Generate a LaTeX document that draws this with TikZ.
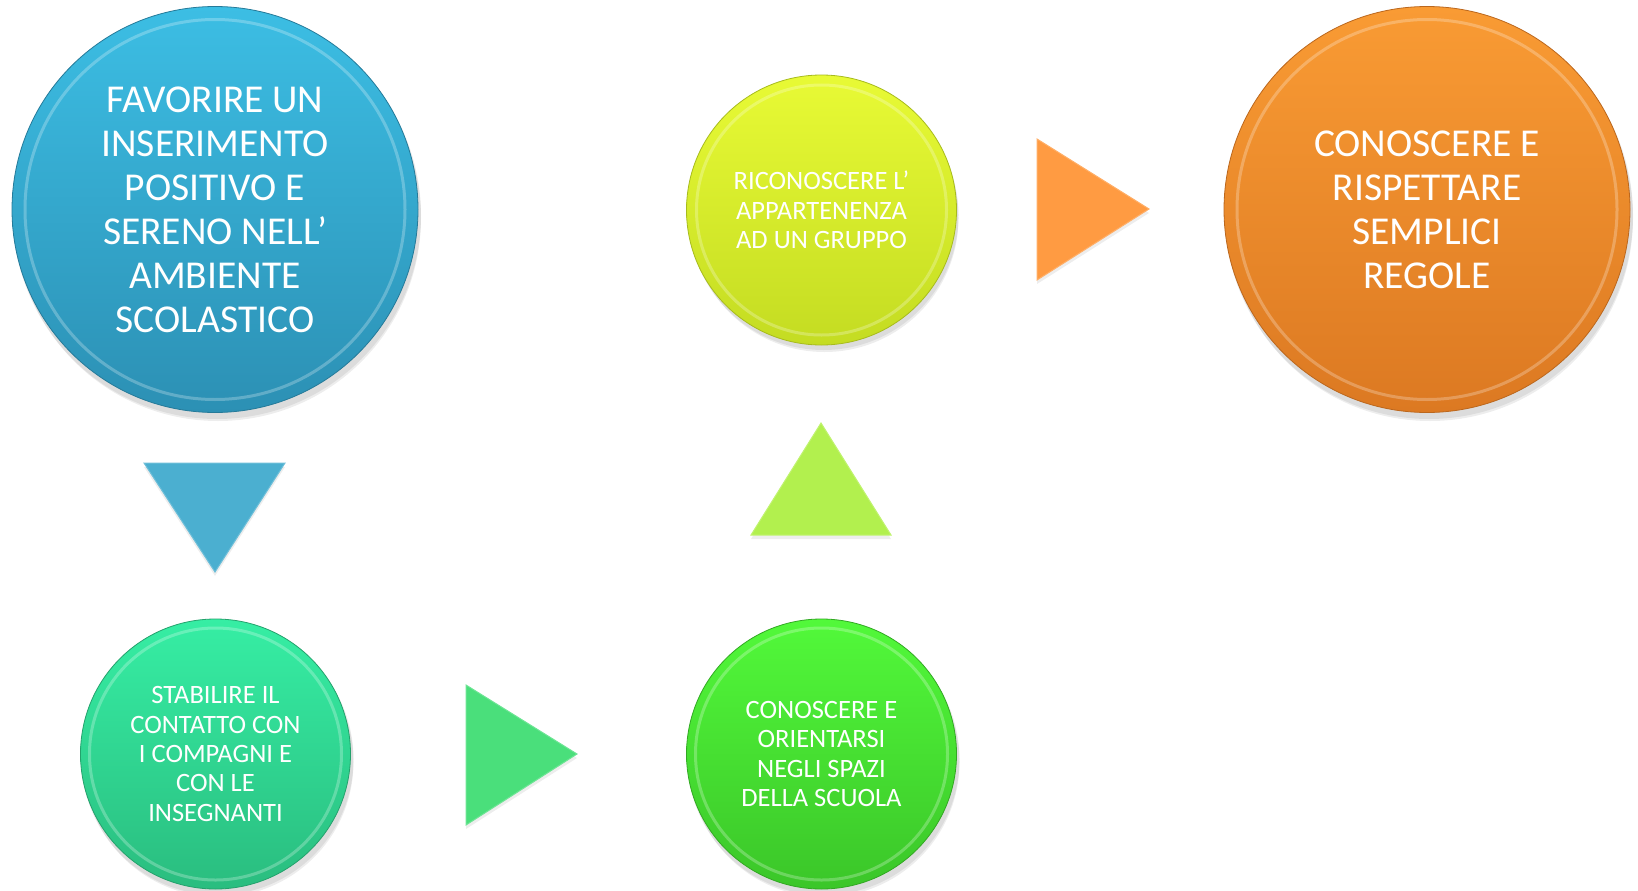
\documentclass[tikz,border=0pt]{standalone}
\usepackage{fontspec}
\setmainfont{Carlito}
\definecolor{blueT}{HTML}{3CBEE4}
\definecolor{blueB}{HTML}{2C90B4}
\definecolor{yelT}{HTML}{E8FA35}
\definecolor{yelB}{HTML}{C4DC22}
\definecolor{orT}{HTML}{F99B34}
\definecolor{orB}{HTML}{DC7922}
\definecolor{tealT}{HTML}{36EEA4}
\definecolor{tealB}{HTML}{2ABD7F}
\definecolor{grnT}{HTML}{52F93A}
\definecolor{grnB}{HTML}{3BC629}
\definecolor{triBlue}{HTML}{4BAFD0}
\definecolor{triYel}{HTML}{B2F04E}
\definecolor{triOr}{HTML}{FF9B42}
\definecolor{triGrn}{HTML}{4ADF7B}
\begin{document}
\begin{tikzpicture}[x=1pt,y=-1pt,
  ball/.style={circle, inner sep=0pt, align=center, text=white},
  bigball/.style={ball, minimum size=406pt, font=\fontsize{39.5}{44}\selectfont},
  smallball/.style={ball, minimum size=270pt, font=\fontsize{26.5}{29.3}\selectfont},
  shade2/.style 2 args={top color=#1, bottom color=#2, draw=#2!85!black, line width=0.8pt},
  ring/.style={draw=white, opacity=0.25, line width=3pt},
  shadowc/.style={fill=black, opacity=0.07},
  tri/.style={draw=#1!80!white, line width=1pt, fill=#1},
]
\useasboundingbox (0,0) rectangle (1638,891);

% shadows
\foreach \x/\y/\r in {215/210/203, 1427/210/203, 821.5/210/134, 215.5/754/135, 821.5/754/135}{
  \fill[shadowc] (\x+2,\y+5) circle[radius=\r+1];
  \fill[shadowc] (\x+3,\y+8) circle[radius=\r];
}
\foreach \a/\b/\c in {{(144,467)}/{(285,467)}/{(215,576)}, {(751,539)}/{(891,539)}/{(821,427)},
   {(1037,143)}/{(1037,284)}/{(1149,213)}, {(466,689)}/{(466,829)}/{(577,758)}}{
  \fill[shadowc] \a -- \b -- \c -- cycle;
}

% circles
\node[bigball, shade2={blueT}{blueB}] (favorire) at (215,209.5)
  {FAVORIRE UN\\INSERIMENTO\\POSITIVO E\\SERENO NELL’\\AMBIENTE\\SCOLASTICO};
\node[smallball, shade2={yelT}{yelB}] (riconoscere) at (821.5,210)
  {RICONOSCERE L’\\APPARTENENZA\\AD UN GRUPPO};
\node[bigball, shade2={orT}{orB}] (regole) at (1427,209.5)
  {CONOSCERE E\\RISPETTARE\\SEMPLICI\\REGOLE};
\node[smallball, shade2={tealT}{tealB}] (contatto) at (215.5,754)
  {STABILIRE IL\\CONTATTO CON\\I COMPAGNI E\\CON LE\\INSEGNANTI};
\node[smallball, shade2={grnT}{grnB}] (spazi) at (821.5,754)
  {CONOSCERE E\\ORIENTARSI\\NEGLI SPAZI\\DELLA SCUOLA};

% inner rings
\draw[ring] (favorire.center) circle[radius=190];
\draw[ring] (regole.center) circle[radius=190];
\draw[ring] (riconoscere.center) circle[radius=125];
\draw[ring] (contatto.center) circle[radius=126];
\draw[ring] (spazi.center) circle[radius=126];

% triangles
\fill[tri=triBlue] (144,463) -- (285,463) -- (215,572) -- cycle;
\fill[tri=triYel] (751,535) -- (891,535) -- (821,423) -- cycle;
\fill[tri=triOr] (1037,139) -- (1037,280) -- (1149,209) -- cycle;
\fill[tri=triGrn] (466,685) -- (466,825) -- (577,754) -- cycle;
\end{tikzpicture}
\end{document}
